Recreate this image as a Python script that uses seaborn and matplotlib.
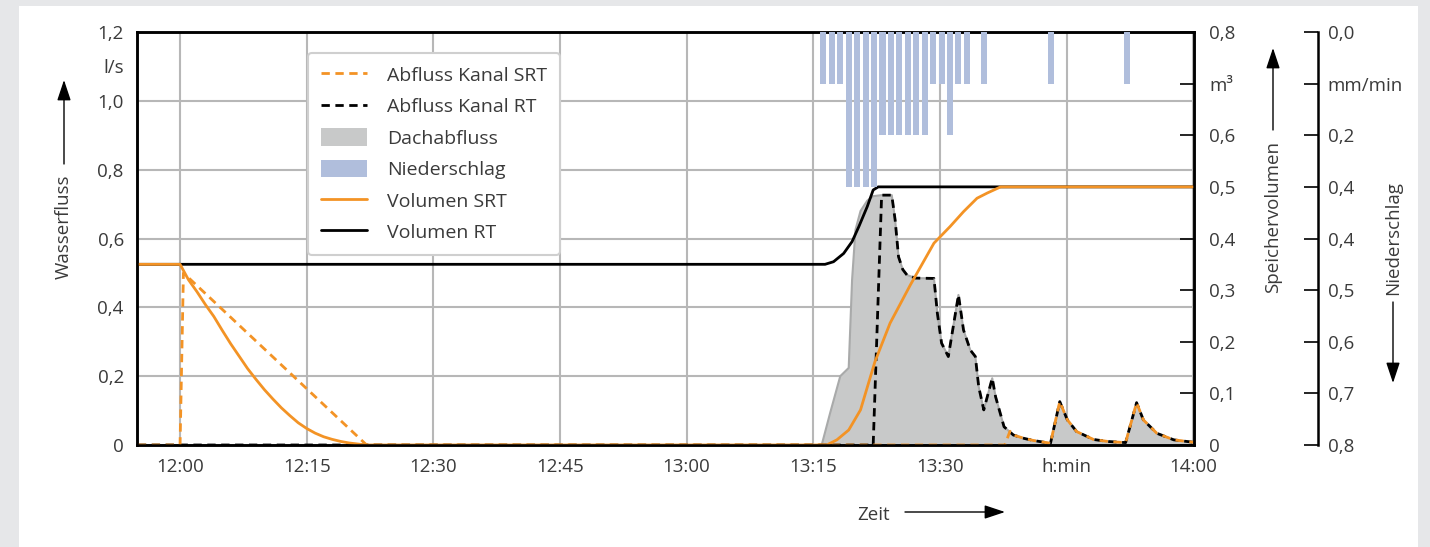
import matplotlib
matplotlib.use("Agg")
import matplotlib.pyplot as plt
import seaborn as sns
import pandas as pd
from matplotlib.lines import Line2D
from matplotlib.patches import Patch, Rectangle, FancyArrowPatch

# ---------------- data (time in minutes after 12:00) ----------------
x_ticks = [0, 15, 30, 45, 60, 75, 90, 105, 120]
x_labels = ["12:00", "12:15", "12:30", "12:45", "13:00", "13:15", "13:30", "h:min", "14:00"]

q_ticks = [0, 0.2, 0.4, 0.6, 0.8, 1.0, 1.2]
q_labels = ["0", "0,2", "0,4", "0,6", "0,8", "1,0", "1,2"]
v_ticks = [0, 0.1, 0.2, 0.3, 0.4, 0.5, 0.6, 0.7, 0.8]
v_labels = ["0", "0,1", "0,2", "0,3", "0,4", "0,5", "0,6", "m³", "0,8"]
p_ticks = [0, 0.1, 0.2, 0.3, 0.4, 0.5, 0.6, 0.7, 0.8]
p_labels = ["0,0", "mm/min", "0,2", "0,4", "0,4", "0,5", "0,6", "0,7", "0,8"]

# Dachabfluss (l/s)
roof_t = [76.0, 77.0, 78.2, 79.2, 79.6, 80.0, 80.6, 81.4, 82.1, 83.1, 84.3, 84.7, 85.1,
          85.6, 86.1, 87.1, 89.3, 89.7, 90.2, 91.0, 92.2, 92.8, 93.6, 94.2, 94.6, 95.2,
          96.2, 96.6, 97.6, 98.7, 100.0, 101.1, 103.1, 104.2, 105.1, 106.2, 108.2, 110.0,
          112.0, 113.3, 114.1, 115.7, 117.7, 120.0]
roof_q = [0.0, 0.093, 0.2, 0.224, 0.48, 0.625, 0.68, 0.71, 0.723, 0.726, 0.726, 0.654, 0.547,
          0.51, 0.494, 0.485, 0.484, 0.383, 0.296, 0.257, 0.436, 0.334, 0.276, 0.257, 0.169, 0.102,
          0.194, 0.14, 0.053, 0.029, 0.019, 0.013, 0.005, 0.126, 0.073, 0.039, 0.016, 0.01,
          0.007, 0.123, 0.073, 0.034, 0.015, 0.008]

# Abfluss Kanal RT (l/s)
rt_q_t = [-5, 82.1, 83.1, 84.3, 84.7, 85.1, 85.6, 86.1, 87.1, 89.3, 89.7, 90.2, 91.0, 92.2,
          92.8, 93.6, 94.2, 94.6, 95.2, 96.2, 96.6, 97.6, 98.7, 100.0, 101.1, 103.1, 104.2,
          105.1, 106.2, 108.2, 110.0, 112.0, 113.3, 114.1, 115.7, 117.7, 120.0]
rt_q = [0.0, 0.0, 0.726, 0.726, 0.654, 0.547, 0.51, 0.494, 0.485, 0.484, 0.383, 0.296, 0.257,
        0.436, 0.334, 0.276, 0.257, 0.169, 0.102, 0.194, 0.14, 0.053, 0.029, 0.019, 0.013,
        0.005, 0.126, 0.073, 0.039, 0.016, 0.01, 0.007, 0.123, 0.073, 0.034, 0.015, 0.008]

# Abfluss Kanal SRT (l/s)
srt_q_t = [-5, 0.0, 0.4, 22.1, 97.7, 98.3, 98.7, 100.0, 101.1, 103.1, 104.2, 105.1, 106.2,
           108.2, 110.0, 112.0, 113.3, 114.1, 115.7, 117.7, 120.0]
srt_q = [0.0, 0.0, 0.5, 0.0, 0.0, 0.04, 0.029, 0.019, 0.013, 0.005, 0.126, 0.073, 0.039,
         0.016, 0.01, 0.007, 0.123, 0.073, 0.034, 0.015, 0.008]

# Volumen SRT (m3)
srt_v_t = [-5, 0, 1, 2, 3, 4, 5, 6, 7, 8, 9, 10, 11, 12, 13, 14, 15, 16, 17, 18, 19, 20, 21,
           22, 76.6, 77.8, 79.2, 80.6, 82.3, 84.1, 86.5, 89.3, 91.2, 92.8, 94.4, 95.6, 97.2, 120.0]
srt_v = [0.35, 0.35, 0.32, 0.297, 0.272, 0.249, 0.222, 0.196, 0.172, 0.148, 0.127, 0.107,
         0.089, 0.072, 0.057, 0.043, 0.032, 0.023, 0.016, 0.011, 0.007, 0.004, 0.002, 0.0,
         0.0, 0.01, 0.029, 0.068, 0.161, 0.236, 0.31, 0.391, 0.423, 0.452, 0.478, 0.488, 0.5, 0.5]

# Volumen RT (m3)
rt_v_t = [-5, 76.4, 77.4, 78.6, 79.6, 80.4, 81.4, 82.1, 82.7, 120.0]
rt_v = [0.35, 0.35, 0.355, 0.371, 0.394, 0.423, 0.462, 0.494, 0.5, 0.5]

# Niederschlag (mm/min)
rain_t = [76, 77, 78, 79, 80, 81, 82, 83, 84, 85, 86, 87, 88, 89, 90, 91, 92, 93, 95, 103, 112]
rain_p = [0.1, 0.1, 0.1, 0.3, 0.3, 0.3, 0.3, 0.2, 0.2, 0.2, 0.2, 0.2, 0.2, 0.1, 0.1, 0.2,
          0.1, 0.1, 0.1, 0.1, 0.1]

# ---------------- style ----------------
ORANGE = "#f39325"
BLUE = "#b0bedc"
GREYFILL = "#c8c9c9"
GREYEDGE = "#a9aaaa"
GRID = "#b7b7b7"
TXT = "#3a3a3a"
LW = 2.0
DASH = (0, (3.0, 2.0))

sns.set_theme(style="white")
plt.rcParams["font.family"] = ["Open Sans", "DejaVu Sans"]
plt.rcParams["text.color"] = TXT
plt.rcParams["xtick.color"] = "black"
plt.rcParams["ytick.color"] = "black"
plt.rcParams["xtick.labelcolor"] = TXT
plt.rcParams["ytick.labelcolor"] = TXT
FS = 13.5

W, H = 1430, 547
fig = plt.figure(figsize=(W / 100, H / 100), dpi=100)
fig.patch.set_facecolor("#e6e7e9")
fig.patches.append(Rectangle((19 / W, 0), (1418 - 19) / W, 1 - 6 / H, transform=fig.transFigure,
                             facecolor="white", edgecolor="none", zorder=-10))

ax = fig.add_axes([137 / W, 1 - 445 / H, (1194 - 137) / W, (445 - 32) / H])
ax.set_facecolor("white")
ax2 = ax.twinx()
ax3 = ax.twinx()

# gray roof runoff
ax.fill_between(roof_t, roof_q, 0, facecolor=GREYFILL, edgecolor="none", zorder=1)
ax.plot(roof_t, roof_q, color=GREYEDGE, lw=1.5, zorder=1.5)

df_rt = pd.DataFrame({"t": rt_q_t, "q": rt_q})
df_srt = pd.DataFrame({"t": srt_q_t, "q": srt_q})
sns.lineplot(data=df_rt, x="t", y="q", ax=ax, color="black", lw=LW, linestyle=DASH,
             estimator=None, sort=False, zorder=3)
sns.lineplot(data=df_srt, x="t", y="q", ax=ax, color=ORANGE, lw=LW, linestyle=DASH,
             estimator=None, sort=False, zorder=4)

# volumes
df_vs = pd.DataFrame({"t": srt_v_t, "v": srt_v})
df_vr = pd.DataFrame({"t": rt_v_t, "v": rt_v})
sns.lineplot(data=df_vr, x="t", y="v", ax=ax2, color="black", lw=LW, estimator=None, sort=False)
sns.lineplot(data=df_vs, x="t", y="v", ax=ax2, color=ORANGE, lw=LW, estimator=None, sort=False)

# rain bars (hanging from top)
ax3.bar([t + 0.2 for t in rain_t], rain_p, width=0.72, color=BLUE, edgecolor="none")

# ---------------- axes ----------------
ax.set_xlim(-5.1, 120.1)
ax.set_ylim(0, 1.2)
ax2.set_ylim(0, 0.8)
ax3.set_ylim(0.8, 0)

ax.set_xticks(x_ticks)
ax.set_xticklabels(x_labels, fontsize=FS)
ax.set_yticks(q_ticks)
ax.set_yticklabels(q_labels, fontsize=FS)
ax.set_yticks([1.1], minor=True)
ax.set_yticklabels(["l/s"], minor=True, fontsize=FS)
ax.tick_params(axis="both", which="both", length=0)
ax.tick_params(axis="x", which="both", pad=9)
ax.tick_params(axis="y", which="both", pad=9.5)
ax.grid(True, which="major", color=GRID, lw=1.5)
ax.set_axisbelow(True)
ax.set_xlabel("")
ax.set_ylabel("")

ax2.set_yticks(v_ticks)
ax2.set_yticklabels(v_labels, fontsize=FS)
ax2.tick_params(axis="y", direction="in", length=10, width=1.2, pad=11)
ax2.set_ylabel("")
ax2.grid(False)

ax3.spines["right"].set_position(("axes", (1318 - 137) / (1194 - 137)))
for s in ["top", "left", "bottom"]:
    ax3.spines[s].set_visible(False)
ax3.spines["right"].set_linewidth(1.8)
ax3.spines["right"].set_color("black")
ax3.set_yticks(p_ticks)
ax3.set_yticklabels(p_labels, fontsize=FS)
ax3.tick_params(axis="y", direction="in", length=10, width=1.2, pad=7)
ax3.set_ylabel("")
ax3.grid(False)

for a in (ax, ax2):
    for s in a.spines.values():
        s.set_color("black")
        s.set_linewidth(1.8)
        s.set_visible(True)

# ---------------- legend ----------------
handles = [
    Line2D([], [], color=ORANGE, lw=LW, linestyle=DASH),
    Line2D([], [], color="black", lw=LW, linestyle=DASH),
    Patch(facecolor=GREYFILL, edgecolor="none"),
    Patch(facecolor=BLUE, edgecolor="none"),
    Line2D([], [], color=ORANGE, lw=LW),
    Line2D([], [], color="black", lw=LW),
]
labels = ["Abfluss Kanal SRT", "Abfluss Kanal RT", "Dachabfluss", "Niederschlag",
          "Volumen SRT", "Volumen RT"]
leg = ax3.legend(handles, labels, loc="upper left", bbox_to_anchor=(308 / W, 1 - 53 / H),
                 bbox_transform=fig.transFigure, borderaxespad=0, fontsize=14,
                 handlelength=2.4, handleheight=1.0, handletextpad=1.0, labelspacing=0.62,
                 borderpad=0.65, frameon=True, fancybox=True, framealpha=1, edgecolor="#cfcfcf")
leg.get_frame().set_linewidth(1.5)
for t in leg.get_texts():
    t.set_color(TXT)

# ---------------- axis titles with arrows ----------------
def fx(px):
    return px / W

def fy(py):
    return 1 - py / H

arrow = dict(arrowstyle="-|>,head_length=0.9,head_width=0.3", color="black", lw=1.0,
             shrinkA=0, shrinkB=0)
fig.text(fx(64), fy(227), "Wasserfluss", rotation=90, ha="center", va="center", fontsize=FS)
fig.add_artist(FancyArrowPatch((fx(64), fy(164)), (fx(64), fy(80)),
               transform=fig.transFigure, mutation_scale=14, **arrow))

fig.text(fx(1273), fy(217), "Speichervolumen", rotation=90, ha="center", va="center", fontsize=FS)
fig.add_artist(FancyArrowPatch((fx(1273), fy(130)), (fx(1273), fy(48)),
               transform=fig.transFigure, mutation_scale=14, **arrow))

fig.text(fx(1393), fy(238), "Niederschlag", rotation=90, ha="center", va="center", fontsize=FS)
fig.add_artist(FancyArrowPatch((fx(1393), fy(302)), (fx(1393), fy(383)),
               transform=fig.transFigure, mutation_scale=14, **arrow))

fig.text(fx(874), fy(515), "Zeit", ha="center", va="center", fontsize=FS)
fig.add_artist(FancyArrowPatch((fx(905), fy(512)), (fx(1005), fy(512)),
               transform=fig.transFigure, mutation_scale=14, **arrow))

fig.savefig("out.png", dpi=100, facecolor=fig.get_facecolor())
